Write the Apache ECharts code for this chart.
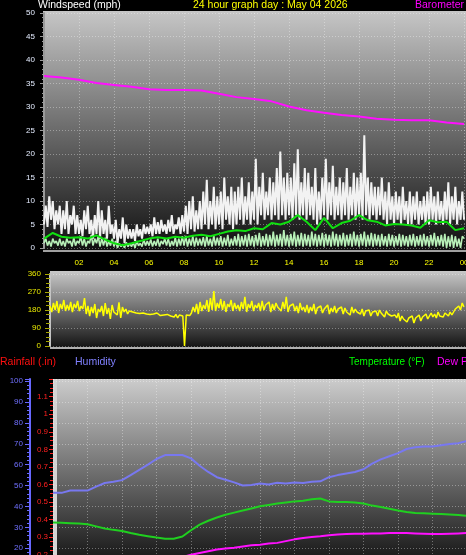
<!DOCTYPE html>
<html><head><meta charset="utf-8">
<script src="https://cdn.jsdelivr.net/npm/echarts@6/dist/echarts.min.js"></script>
<style>html,body{margin:0;padding:0;background:#000;overflow:hidden}#c{width:466px;height:555px}</style>
</head><body><div id="c"></div>
<script>
// ---- tick labels ----
const xTickLabels = ['02','04','06','08','10','12','14','16','18','20','22','00'];
// ---- wind (step 0.1 h) ----
const gustStep = 0.1;
const gust = [
5,9,4.5,11,6,10,4,8,5,9,
3,8,4,10,3,7,5,9,3,7,
3,6,2.5,8,4,9,3,6,2,7,
3,10,2,8,3,6,2,9,3,5,
2,6,1,4,2,6.5,1,5,2,4,
2,4,1.5,5,2.5,4,2,5,3,4.5,
3,5,2.5,6.5,3,5.5,3,6,3.5,5,
3,6,3.5,7,3,5,4,6.5,3,7,
3.5,9,3,10,4,11,3.5,8,4,10,
4,12,5,14.5,4,10,5,13,4,11,
5,12,4,15,6,11,5,13,4,12,
5,13,6,15,5,11,6,14,5,12,
6,19,5,13,7,16,6,12,7,15,
6,14,7,17,6,20.5,7,15,6,16,
7,15,6,18,7,21,6,14,7,17,
6,16,7,13,6,17,5,12,6,15,
7,19,6,14,7,17.5,6,13,7,15,
6,14,7,17,6,13,7,16,6,15,
7,16,6,24,7,15,6,14,7,13,
6,13,7,15,6,12,5,14,6,11,
5,12,6,11,5,13,6,10,5,12,
5,11,6,12,5,10,6,11,5,12,
5,13,6,11,5,12,6,10,5,12,
6,14,5,11,6,13,5,10,6,12,
6];
const speed = [
1,2,0.5,1.5,0.3,2,1,1.5,0.5,2,
0.5,1.5,0.3,2,1,1.5,0.3,2.2,0.5,1.5,
1,2.5,0.5,2,0.3,1.5,1,2.8,0.5,2,
1,2.5,0.3,2,0.5,2.2,0.3,1.5,0.5,2,
0.3,1.5,0,1,0.3,0.8,0,1.2,0.3,1,
0.3,1.2,0,1.5,0.5,1,0.3,1.8,0.5,1.5,
0.5,1.8,0.3,1.5,0.5,2,0.3,1.5,0.8,2,
0.5,2,0.3,1.5,0.5,2.2,0.3,2,0.5,2.5,
0.5,2.6,0.3,2,0.5,2.5,0.3,2.2,0.5,2,
0.5,2.3,0.3,2.5,0.5,2,0.3,2.6,0.5,2.2,
0.5,2.5,0.3,2.2,0.5,2.8,0.3,2,0.5,2.5,
0.5,3,0.3,2.5,0.5,2.8,0.3,3,0.5,2.5,
0.3,2.8,0.5,3.2,0.3,2.5,0.5,3,0.3,2.8,
0.5,3.5,0.3,2.8,0.5,3,0.3,3.8,0.5,2.8,
0.3,3,0.5,3.5,0.3,2.8,0.5,3.2,0.3,3,
0.5,2.8,0.3,3.5,0.5,3,0.3,2.8,0.5,3.2,
0.3,3,0.5,2.8,0.3,3.5,0.5,3,0.3,2.8,
0.5,3.2,0.3,2.8,0.5,3,0.3,3.5,0.5,2.8,
0.3,3,0.5,3.5,0.3,2.8,0.5,3.2,0.3,3,
0.5,2.8,0.3,3,0.5,2.5,0.3,3,0.5,2.8,
0.3,2.5,0.5,3,0.3,2.8,0.5,2.5,0.3,2.8,
0.5,3,0.3,2.5,0.5,2.8,0.3,3,0.5,2.5,
0.3,2.8,0.5,3.2,0.3,2.5,0.5,2.8,0.3,3,
0,2.5,0.3,2.8,0,2.5,0.3,2,0,2.5,
2];
// ---- average wind (step 0.5 h) ----
const avgStep = 0.5;
const avgWind = [2.0,3.2,2.4,2.2,2.3,2.0,2.7,1.8,1.0,0.6,1.0,1.5,2.0,2.3,2.0,2.4,2.2,2.6,2.8,2.5,3.0,3.5,3.8,3.6,4.2,4.0,5.3,5.0,5.6,7.0,5.6,3.8,6.4,4.2,5.3,5.8,7.0,5.9,5.6,4.8,5.1,5.0,4.8,4.3,5.9,5.5,5.6,3.8,4.2];
// ---- barometer inHg (step 1 h) ----
const baroStep = 1;
const barometer = [30.132,30.126,30.116,30.102,30.094,30.086,30.076,30.072,30.072,30.070,30.056,30.042,30.034,30.024,30.002,29.986,29.976,29.966,29.960,29.950,29.946,29.944,29.944,29.934,29.928];
// ---- wind direction (step 0.1 h) ----
const dirStep = 0.1;
const direction = [
200,170,215,180,225,165,210,185,230,175,
205,180,220,170,210,190,225,175,200,185,
240,160,200,150,195,165,210,140,185,170,
200,150,215,160,190,135,205,170,180,155,
218,140,195,170,185,160,175,165,170,160,
165,158,162,160,165,158,160,163,158,162,
160,155,165,158,152,160,155,150,158,155,
150,160,145,158,140,155,160,150,0,155,
155,152,165,195,170,210,160,220,175,205,
185,230,170,240,180,275,175,215,190,235,
180,225,170,210,195,230,175,215,185,205,
175,220,185,246,170,210,190,225,175,205,
190,215,175,225,180,205,195,220,170,210,
180,215,195,205,175,220,185,246,170,200,
190,210,175,200,165,215,180,195,170,205,
165,195,175,210,160,190,180,200,165,185,
175,205,160,190,170,200,165,185,175,195,
160,190,170,180,155,195,165,185,170,175,
160,185,150,175,165,180,150,170,160,175,
150,180,165,170,145,175,160,165,150,160,
155,140,165,125,150,135,145,120,140,130,
150,115,140,135,155,125,145,140,160,135,
150,165,145,160,140,170,150,155,145,165,
160,150,170,155,165,185,175,200,180,215,
195];
// ---- lower panel (step 0.5 h) ----
const lowStep = 0.5;
const humidity = [46.5,46.5,47.6,47.6,47.6,49.5,51.2,51.8,52.6,55.0,57.5,60.0,62.7,64.6,64.6,64.6,63.0,59.5,56.5,54.0,52.8,51.5,50.0,50.3,51.0,50.5,51.3,51.0,51.5,51.2,51.8,52.0,54.0,55.0,55.8,56.5,57.8,60.5,62.5,64.0,65.5,67.5,68.3,68.7,68.7,69.3,69.9,70.3,71.3];
const temperature = [49.2,49.1,49.0,48.9,48.7,48.1,47.5,47.1,46.8,46.2,45.7,45.3,44.9,44.6,44.6,45.2,47.0,48.6,49.7,50.6,51.4,52.0,52.6,53.2,53.8,54.2,54.6,54.9,55.2,55.4,55.8,56.0,55.2,55.0,55.0,54.9,54.6,54.0,53.6,53.1,52.6,52.2,51.9,51.8,51.7,51.6,51.5,51.3,51.1];
const dewPoint = [38.0,38.0,38.1,38.1,38.2,38.2,38.3,38.3,38.3,38.4,38.4,38.5,38.6,38.8,39.0,39.4,40.0,40.5,41.0,41.5,41.8,42.0,42.4,42.7,42.9,43.2,43.4,43.9,44.4,44.8,45.1,45.3,45.6,45.8,45.9,46.0,46.0,46.1,46.1,46.2,46.2,46.2,46.1,46.0,45.9,45.9,46.0,46.1,46.2];
const rainfallLabels = ['0','0.1','0.2','0.3','0.4','0.5','0.6','0.7','0.8','0.9','1','1.1'];

function pairs(arr, step){ return arr.map((v,i)=>[i*step, v]); }

const chart = echarts.init(document.getElementById('c'), null, {renderer:'canvas'});
const F = 'Liberation Sans, Arial, sans-serif';
const dotted = {type:[1,2], color:'rgba(255,255,255,0.35)', width:1};
function grad(a,b){ return new echarts.graphic.LinearGradient(0,0,0,1,[{offset:0,color:a},{offset:1,color:b}]); }

const xBase = {type:'value', min:0, interval:2, axisTick:{show:false}, axisLine:{show:false}, splitLine:{show:true, lineStyle:dotted}};

chart.setOption({
  backgroundColor:'#000',
  animation:false,
  graphic:[
    {type:'rect', z:-10, shape:{x:43,y:11,width:423,height:241}, style:{fill:grad('#c6c6c6','#0e0e0e')}},
    {type:'rect', z:-9, shape:{x:43,y:250,width:423,height:2}, style:{fill:'#a0a0a0'}},
    {type:'rect', z:-10, shape:{x:50,y:271,width:416,height:78}, style:{fill:grad('#c8c8c8','#101010')}},
    {type:'rect', z:-9, shape:{x:50,y:347,width:416,height:2}, style:{fill:'#b0b0b0'}},
    {type:'rect', z:-10, shape:{x:53,y:379,width:413,height:176}, style:{fill:grad('#cccccc','#1c1c1c')}},
    {type:'rect', z:-9, shape:{x:53,y:379,width:4,height:176}, style:{fill:'#d4d4d4'}},
    {type:'text', left:38, top:0, style:{text:'Windspeed (mph)', fill:'#ffffff', font:'10.5px '+F}},
    {type:'text', left:193, top:0, style:{text:'24 hour graph day : May 04 2026', fill:'#ffff00', font:'10.5px '+F}},
    {type:'text', left:415, top:0, style:{text:'Barometer', fill:'#ff00ff', font:'10.5px '+F}},
    {type:'text', left:0, top:357, style:{text:'Rainfall (.in)', fill:'#ff1010', font:'10.5px '+F}},
    {type:'text', left:75, top:357, style:{text:'Humidity', fill:'#8080ff', font:'10.5px '+F}},
    {type:'text', left:349, top:357, style:{text:'Temperature (°F)', fill:'#00ff00', font:'10px '+F}},
    {type:'text', left:437, top:357, style:{text:'Dew Point (°F)', fill:'#ff00ff', font:'10.5px '+F}}
  ],
  grid:[
    {left:44, top:13, width:422, height:235, outerBoundsMode:'none', containLabel:false},
    {left:50, top:274, width:416, height:72, outerBoundsMode:'none', containLabel:false},
    {left:53, top:379, width:414, height:211, outerBoundsMode:'none', containLabel:false}
  ],
  xAxis:[
    Object.assign({}, xBase, {gridIndex:0, max:24.11,
      axisLabel:{color:'#ffff00', fontSize:8, fontFamily:F, margin:11,
        formatter:v=> (v>0 && v%2===0 && v<=24) ? xTickLabels[v/2-1] : ''}}),
    Object.assign({}, xBase, {gridIndex:1, max:24.12, axisLabel:{show:false}, splitLine:{show:false}}),
    Object.assign({}, xBase, {gridIndex:2, max:24, axisLabel:{show:false}})
  ],
  yAxis:[
    {type:'value', gridIndex:0, min:0, max:50, interval:5,
      axisLine:{show:true, lineStyle:{color:'#9a9a9a', width:2}},
      axisTick:{show:true, length:4, lineStyle:{color:'#9a9a9a'}},
      minorTick:{show:true, splitNumber:5, length:2, lineStyle:{color:'#9a9a9a'}},
      axisLabel:{color:'#e4ecff', fontSize:8, fontFamily:F, margin:9},
      splitLine:{show:true, lineStyle:dotted}},
    {type:'value', gridIndex:0, min:29.4, max:30.4, show:false, splitLine:{show:false}},
    {type:'value', gridIndex:1, min:0, max:360, interval:90,
      axisLine:{show:true, lineStyle:{color:'#c4c4c4', width:2}},
      axisTick:{show:true, length:5, lineStyle:{color:'#a8a800'}},
      minorTick:{show:true, splitNumber:4, length:4, lineStyle:{color:'#a8a800'}},
      axisLabel:{color:'#e8e800', fontSize:8, fontFamily:F, margin:9},
      splitLine:{show:true, lineStyle:dotted}},
    {type:'value', gridIndex:2, min:0, max:1.2, interval:0.1, position:'left',
      axisLine:{show:false},
      axisTick:{show:true, length:4, lineStyle:{color:'#ff2020'}},
      minorTick:{show:true, splitNumber:4, length:3, lineStyle:{color:'#ff2020'}},
      axisLabel:{color:'#ff2020', fontSize:8, fontFamily:F, margin:5,
        formatter:v=>{ const k=Math.round(v*10); return (k>=1 && k<=11) ? rainfallLabels[k] : ''; }},
      splitLine:{show:false}},
    {type:'value', gridIndex:2, min:0, max:101, interval:10, position:'left', offset:23,
      axisLine:{show:true, lineStyle:{color:'#6868ff', width:2}},
      axisTick:{show:true, length:5, lineStyle:{color:'#6868ff'}},
      minorTick:{show:true, splitNumber:5, length:3, lineStyle:{color:'#6868ff'}},
      axisLabel:{color:'#7070ff', fontSize:8, fontFamily:F, margin:7,
        formatter:v=> (v%10===0) ? String(v) : ''},
      splitLine:{show:true, lineStyle:dotted}},
    {type:'value', gridIndex:2, min:30, max:90, show:false, splitLine:{show:false}}
  ],
  series:[
    {type:'line', name:'Gust', xAxisIndex:0, yAxisIndex:0, data:pairs(gust,gustStep), showSymbol:false, lineStyle:{color:'#f2f2f2', width:2}, z:2},
    {type:'line', name:'Wind', xAxisIndex:0, yAxisIndex:0, data:pairs(speed,gustStep), showSymbol:false, lineStyle:{color:'#b8f0b8', width:1.6}, z:3},
    {type:'line', name:'Average', xAxisIndex:0, yAxisIndex:0, data:pairs(avgWind,avgStep), showSymbol:false, lineStyle:{color:'#10e010', width:2}, z:4},
    {type:'line', name:'Barometer', xAxisIndex:0, yAxisIndex:1, data:pairs(barometer,baroStep), showSymbol:false, lineStyle:{color:'#ff10ff', width:2}, z:5},
    {type:'line', name:'Direction', xAxisIndex:1, yAxisIndex:2, data:pairs(direction,dirStep), showSymbol:false, lineStyle:{color:'#ffff00', width:1.5}, z:3},
    {type:'line', name:'Humidity', xAxisIndex:2, yAxisIndex:4, data:pairs(humidity,lowStep), showSymbol:false, lineStyle:{color:'#7878f0', width:2}, z:3},
    {type:'line', name:'Temperature', xAxisIndex:2, yAxisIndex:5, data:pairs(temperature,lowStep), showSymbol:false, lineStyle:{color:'#20d020', width:2}, z:3},
    {type:'line', name:'Dew Point', xAxisIndex:2, yAxisIndex:5, data:pairs(dewPoint,lowStep), showSymbol:false, lineStyle:{color:'#ff10ff', width:2}, z:3}
  ]
});
</script></body></html>
